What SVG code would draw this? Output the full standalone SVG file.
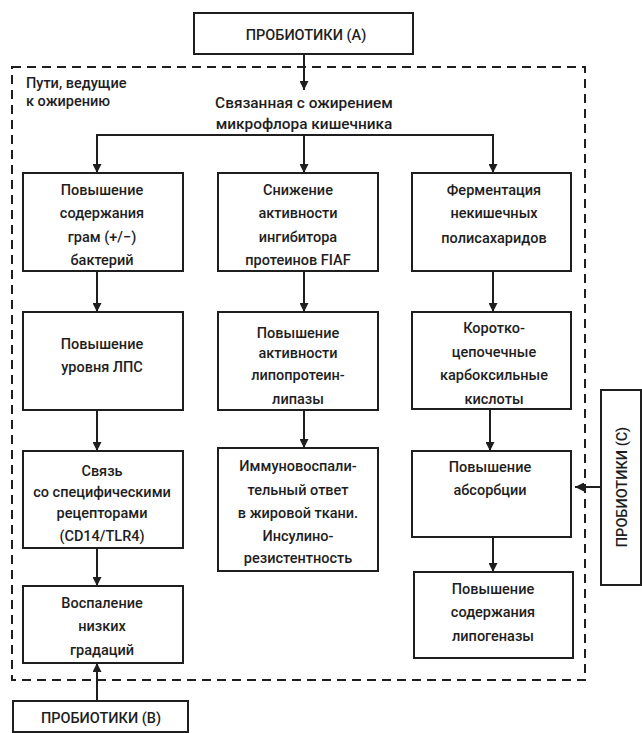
<svg xmlns="http://www.w3.org/2000/svg" width="642" height="733" viewBox="0 0 642 733">
<defs>
<style>
.box{fill:#fff;stroke:#1e1e1e;stroke-width:2}
.t{font-family:Roboto,"Liberation Sans",sans-serif;font-weight:500;font-size:14.5px;fill:#1e1e1e;text-anchor:middle}
.l{text-anchor:start}
.big{font-size:15.4px}
.c{stroke:#1e1e1e;stroke-width:2;fill:none}
.dash{fill:none;stroke:#1e1e1e;stroke-width:2;stroke-dasharray:9 6}
</style>
<marker id="ah" viewBox="0 0 10 10" refX="10" refY="5" markerWidth="9" markerHeight="9" markerUnits="userSpaceOnUse" orient="auto">
<path d="M0,0 L10,5 L0,10 z" fill="#1e1e1e"/>
</marker>
</defs>
<rect width="642" height="733" fill="#fff"/>

<g id="region">
<rect class="dash" x="12" y="67" width="573" height="613"/>
<text class="t l" x="26" y="88">Пути, ведущие</text>
<text class="t l" x="26" y="106">к ожирению</text>
</g>

<g id="microflora">
<text class="t big" x="304" y="108">Связанная с ожирением</text>
<text class="t big" x="304" y="129">микрофлора кишечника</text>
</g>

<g id="connectors">
<line class="c" x1="304" y1="54" x2="304" y2="90" marker-end="url(#ah)"/>
<polyline class="c" points="97,173 97,135 493,135 493,173" marker-end="url(#ah)"/>
<line class="c" x1="97" y1="135" x2="97" y2="173" marker-end="url(#ah)"/>
<line class="c" x1="304" y1="135" x2="304" y2="173" marker-end="url(#ah)"/>
<line class="c" x1="97" y1="271" x2="97" y2="312" marker-end="url(#ah)"/>
<line class="c" x1="97" y1="410" x2="97" y2="451" marker-end="url(#ah)"/>
<line class="c" x1="97" y1="548" x2="97" y2="586" marker-end="url(#ah)"/>
<line class="c" x1="304" y1="271" x2="304" y2="312" marker-end="url(#ah)"/>
<line class="c" x1="304" y1="410" x2="304" y2="448" marker-end="url(#ah)"/>
<line class="c" x1="493" y1="271" x2="493" y2="312" marker-end="url(#ah)"/>
<line class="c" x1="490" y1="409" x2="490" y2="451" marker-end="url(#ah)"/>
<line class="c" x1="493" y1="537" x2="493" y2="572" marker-end="url(#ah)"/>
<line class="c" x1="601" y1="487" x2="575" y2="487" marker-end="url(#ah)"/>
<line class="c" x1="97" y1="701" x2="97" y2="663" marker-end="url(#ah)"/>
</g>

<g id="probioticsA">
<rect class="box" x="194" y="13" width="219" height="41"/>
<text class="t" x="306" y="40">ПРОБИОТИКИ (A)</text>
</g>

<g id="c1b1">
<rect class="box" x="23" y="173" width="160" height="98"/>
<text class="t" x="102" y="195">Повышение</text>
<text class="t" x="102" y="218">содержания</text>
<text class="t" x="102" y="242">грам (+/−)</text>
<text class="t" x="102" y="265">бактерий</text>
</g>
<g id="c1b2">
<rect class="box" x="23" y="312" width="160" height="98"/>
<text class="t" x="102" y="349">Повышение</text>
<text class="t" x="102" y="372">уровня ЛПС</text>
</g>
<g id="c1b3">
<rect class="box" x="23" y="451" width="160" height="97"/>
<text class="t" x="102" y="476">Связь</text>
<text class="t" x="102" y="497">со специфическими</text>
<text class="t" x="102" y="518">рецепторами</text>
<text class="t" x="102" y="541">(CD14/TLR4)</text>
</g>
<g id="c1b4">
<rect class="box" x="23" y="586" width="160" height="77"/>
<text class="t" x="102" y="608">Воспаление</text>
<text class="t" x="102" y="631">низких</text>
<text class="t" x="102" y="655">градаций</text>
</g>

<g id="c2b1">
<rect class="box" x="218" y="173" width="160" height="98"/>
<text class="t" x="298" y="195">Снижение</text>
<text class="t" x="298" y="218">активности</text>
<text class="t" x="298" y="242">ингибитора</text>
<text class="t" x="298" y="265">протеинов FIAF</text>
</g>
<g id="c2b2">
<rect class="box" x="218" y="312" width="160" height="98"/>
<text class="t" x="298" y="338">Повышение</text>
<text class="t" x="298" y="358">активности</text>
<text class="t" x="298" y="380">липопротеин-</text>
<text class="t" x="298" y="404">липазы</text>
</g>
<g id="c2b3">
<rect class="box" x="218" y="448" width="160" height="123"/>
<text class="t" x="298" y="471">Иммуновоспали-</text>
<text class="t" x="298" y="495">тельный ответ</text>
<text class="t" x="298" y="518">в жировой ткани.</text>
<text class="t" x="298" y="541">Инсулино-</text>
<text class="t" x="298" y="563">резистентность</text>
</g>

<g id="c3b1">
<rect class="box" x="412" y="173" width="159" height="98"/>
<text class="t" x="494" y="195">Ферментация</text>
<text class="t" x="494" y="218">некишечных</text>
<text class="t" x="494" y="243">полисахаридов</text>
</g>
<g id="c3b2">
<rect class="box" x="412" y="312" width="159" height="97"/>
<text class="t" x="494" y="333">Коротко-</text>
<text class="t" x="494" y="357">цепочечные</text>
<text class="t" x="494" y="380">карбоксильные</text>
<text class="t" x="494" y="404">кислоты</text>
</g>
<g id="c3b3">
<rect class="box" x="412" y="451" width="159" height="86"/>
<text class="t" x="490" y="472">Повышение</text>
<text class="t" x="490" y="495">абсорбции</text>
</g>
<g id="c3b4">
<rect class="box" x="414" y="572" width="159" height="86"/>
<text class="t" x="493" y="594">Повышение</text>
<text class="t" x="493" y="617">содержания</text>
<text class="t" x="493" y="641">липогеназы</text>
</g>

<g id="probioticsC">
<rect class="box" x="601" y="390" width="40" height="195"/>
<text class="t" transform="translate(627,487) rotate(-90)" x="0" y="0">ПРОБИОТИКИ (C)</text>
</g>

<g id="probioticsB">
<rect class="box" x="13" y="701" width="175" height="31"/>
<text class="t" x="101" y="723">ПРОБИОТИКИ (B)</text>
</g>
</svg>
